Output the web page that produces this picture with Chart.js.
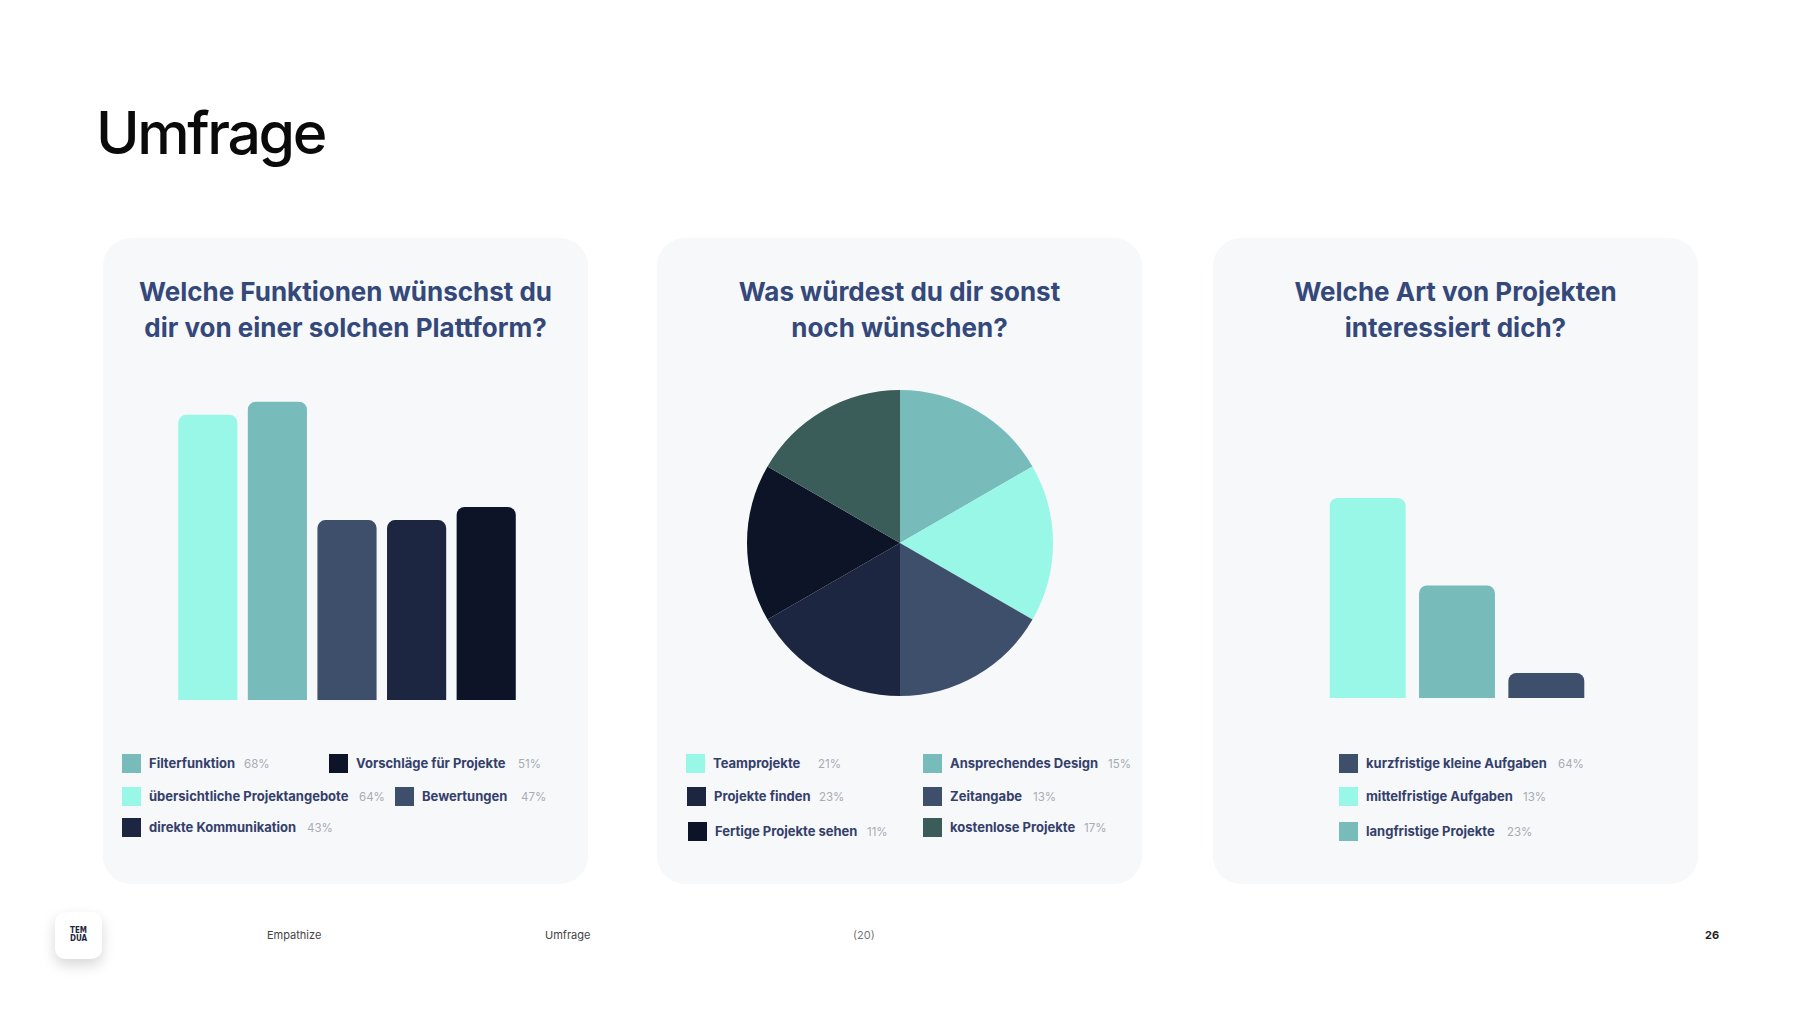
<!DOCTYPE html>
<html lang="de">
<head>
<meta charset="utf-8">
<title>Umfrage</title>
<script src="https://cdn.jsdelivr.net/npm/chart.js@4.4.0/dist/chart.umd.min.js"></script>
<style>
  body { margin: 0; background: #fff; font-family: Inter, "Noto Sans", sans-serif; }
  #page { position: relative; width: 1800px; height: 1012px; overflow: hidden; background: #fff; }
  h1 { position: absolute; left: 96px; top: 93px; margin: 0; font-size: 59px; font-weight: 500; letter-spacing: -2.4px; color: #0a0a0a; line-height: 80px; }
  .card { position: absolute; top: 238px; width: 485px; height: 646px; background: #f7f8fa; border-radius: 28px; }
  .card h2 { position: absolute; left: 0; right: 0; top: 36px; margin: 0; text-align: center; font-size: 26px; font-weight: 700; line-height: 36px; color: #34487a; }
  .chart-box { position: absolute; }
  .legend-item { position: absolute; height: 19px; }
  .legend-item .sw { position: absolute; left: 0; top: 0; width: 19px; height: 19px; }
  .legend-item .lbl { position: absolute; left: 27px; top: 0; line-height: 19px; font-size: 13px; font-weight: 700; color: #34406a; white-space: nowrap; }
  .legend-item .pct { position: absolute; top: 1px; line-height: 19px; font-size: 11.5px; color: #a7abb3; white-space: nowrap; }
  .foot { position: absolute; top: 927px; font-size: 11px; line-height: 16px; color: #444; }
  #logo { position: absolute; left: 55px; top: 912px; width: 47px; height: 47px; background: #fff; border-radius: 10px; box-shadow: 0 6px 14px rgba(0,0,0,0.16); text-align: center; font-family: "DejaVu Sans Condensed", "Liberation Sans Narrow", sans-serif; font-weight: 700; font-size: 8px; line-height: 8px; color: #1c2640; padding-top: 15px; box-sizing: border-box; }
</style>
</head>
<body>
<div id="page">
  <h1>Umfrage</h1>

  <div class="card" style="left:103px"><h2>Welche Funktionen wünschst du<br>dir von einer solchen Plattform?</h2></div>
  <div class="card" style="left:657px"><h2>Was würdest du dir sonst<br>noch wünschen?</h2></div>
  <div class="card" style="left:1213px"><h2>Welche Art von Projekten<br>interessiert dich?</h2></div>

  <div class="chart-box" style="left:173px; top:349px; width:348px; height:351px"><canvas id="chart1"></canvas></div>
  <div class="chart-box" style="left:747px; top:390px; width:306px; height:306px"><canvas id="chart2"></canvas></div>
  <div class="chart-box" style="left:1323px; top:448px; width:268px; height:250px"><canvas id="chart3"></canvas></div>

  <div id="legends"></div>

  <div id="logo">TEM<br>DUA</div>
  <div class="foot" style="left:267px">Empathize</div>
  <div class="foot" style="left:545px">Umfrage</div>
  <div class="foot" style="left:853px; color:#777">(20)</div>
  <div class="foot" style="left:1705px; font-weight:700; color:#222">26</div>
</div>

<script>
// colours
const mint = '#98f7e6';
const teal = '#77bcbb';
const slate = '#3e4f6b';
const navy = '#1d2640';
const ink = '#0e1428';
const pine = '#3a5d5a';

// chart 1: Welche Funktionen
const funcLabels = ['übersichtliche Projektangebote', 'Filterfunktion', 'Bewertungen', 'direkte Kommunikation', 'Vorschläge für Projekte'];
const funcValues = [65, 68, 41, 41, 44];
const funcColors = [mint, teal, slate, navy, ink];

// chart 2: Was würdest du dir sonst noch wünschen
const wishLabels = ['Ansprechendes Design', 'Teamprojekte', 'Zeitangabe', 'Projekte finden', 'Fertige Projekte sehen', 'kostenlose Projekte'];
const wishValues = [16.7, 16.7, 16.7, 16.7, 16.7, 16.7];
const wishColors = [teal, mint, slate, navy, ink, pine];

// chart 3: Welche Art von Projekten
const typeLabels = ['mittelfristige Aufgaben', 'langfristige Projekte', 'kurzfristige kleine Aufgaben'];
const typeValues = [64, 36, 8];
const typeColors = [mint, teal, slate];

// legend texts as printed on the slide
const legend1 = [
    ['Filterfunktion', '68%', teal],
    ['Vorschläge für Projekte', '51%', ink],
    ['übersichtliche Projektangebote', '64%', mint],
    ['Bewertungen', '47%', slate],
    ['direkte Kommunikation', '43%', navy],
];
const legend2 = [
    ['Teamprojekte', '21%', mint],
    ['Ansprechendes Design', '15%', teal],
    ['Projekte finden', '23%', navy],
    ['Zeitangabe', '13%', slate],
    ['Fertige Projekte sehen', '11%', ink],
    ['kostenlose Projekte', '17%', pine],
];
const legend3 = [
    ['kurzfristige kleine Aufgaben', '64%', slate],
    ['mittelfristige Aufgaben', '13%', mint],
    ['langfristige Projekte', '23%', teal],
];

// layout: [swatch x, swatch y, percent x]
const legend1Pos = [[122, 754, 244], [329, 754, 518], [122, 787, 359], [395, 787, 521], [122, 818, 307]];
const legend2Pos = [[686, 754, 818], [923, 754, 1108], [687, 787, 819], [923, 787, 1033], [688, 822, 867], [923, 818, 1084]];
const legend3Pos = [[1339, 754, 1558], [1339, 787, 1523], [1339, 822, 1507]];

const legendsEl = document.getElementById('legends');

function drawLegend(items, positions) {
    items.forEach((item, i) => {
        const [sx, sy, px] = positions[i];
        const div = document.createElement('div');
        div.className = 'legend-item';
        div.style.left = sx + 'px';
        div.style.top = sy + 'px';
        div.innerHTML = `<span class="sw" style="background:${item[2]}"></span>` +
            `<span class="lbl">${item[0]}</span>` +
            `<span class="pct" style="left:${px - sx}px">${item[1]}</span>`;
        legendsEl.appendChild(div);
    });
}

drawLegend(legend1, legend1Pos);
drawLegend(legend2, legend2Pos);
drawLegend(legend3, legend3Pos);

Chart.defaults.animation = false;

function barChart(id, labels, values, colors) {
    return new Chart(document.getElementById(id), {
        type: 'bar',
        data: {
            labels: labels,
            datasets: [{
                data: values,
                backgroundColor: colors,
                borderWidth: 0,
                borderRadius: { topLeft: 8, topRight: 8, bottomLeft: 0, bottomRight: 0 },
                borderSkipped: false,
                barPercentage: 0.85,
                categoryPercentage: 1,
            }],
        },
        options: {
            responsive: true,
            maintainAspectRatio: false,
            layout: { padding: 0 },
            plugins: { legend: { display: false }, tooltip: { enabled: false } },
            scales: {
                x: { display: false },
                y: { display: false, min: 0, max: 80 },
            },
        },
    });
}

barChart('chart1', funcLabels, funcValues, funcColors);
barChart('chart3', typeLabels, typeValues, typeColors);

new Chart(document.getElementById('chart2'), {
    type: 'pie',
    data: {
        labels: wishLabels,
        datasets: [{
            data: wishValues,
            backgroundColor: wishColors,
            borderWidth: 0,
        }],
    },
    options: {
        responsive: true,
        maintainAspectRatio: false,
        layout: { padding: 0 },
        plugins: { legend: { display: false }, tooltip: { enabled: false } },
    },
});
</script>
</body>
</html>
